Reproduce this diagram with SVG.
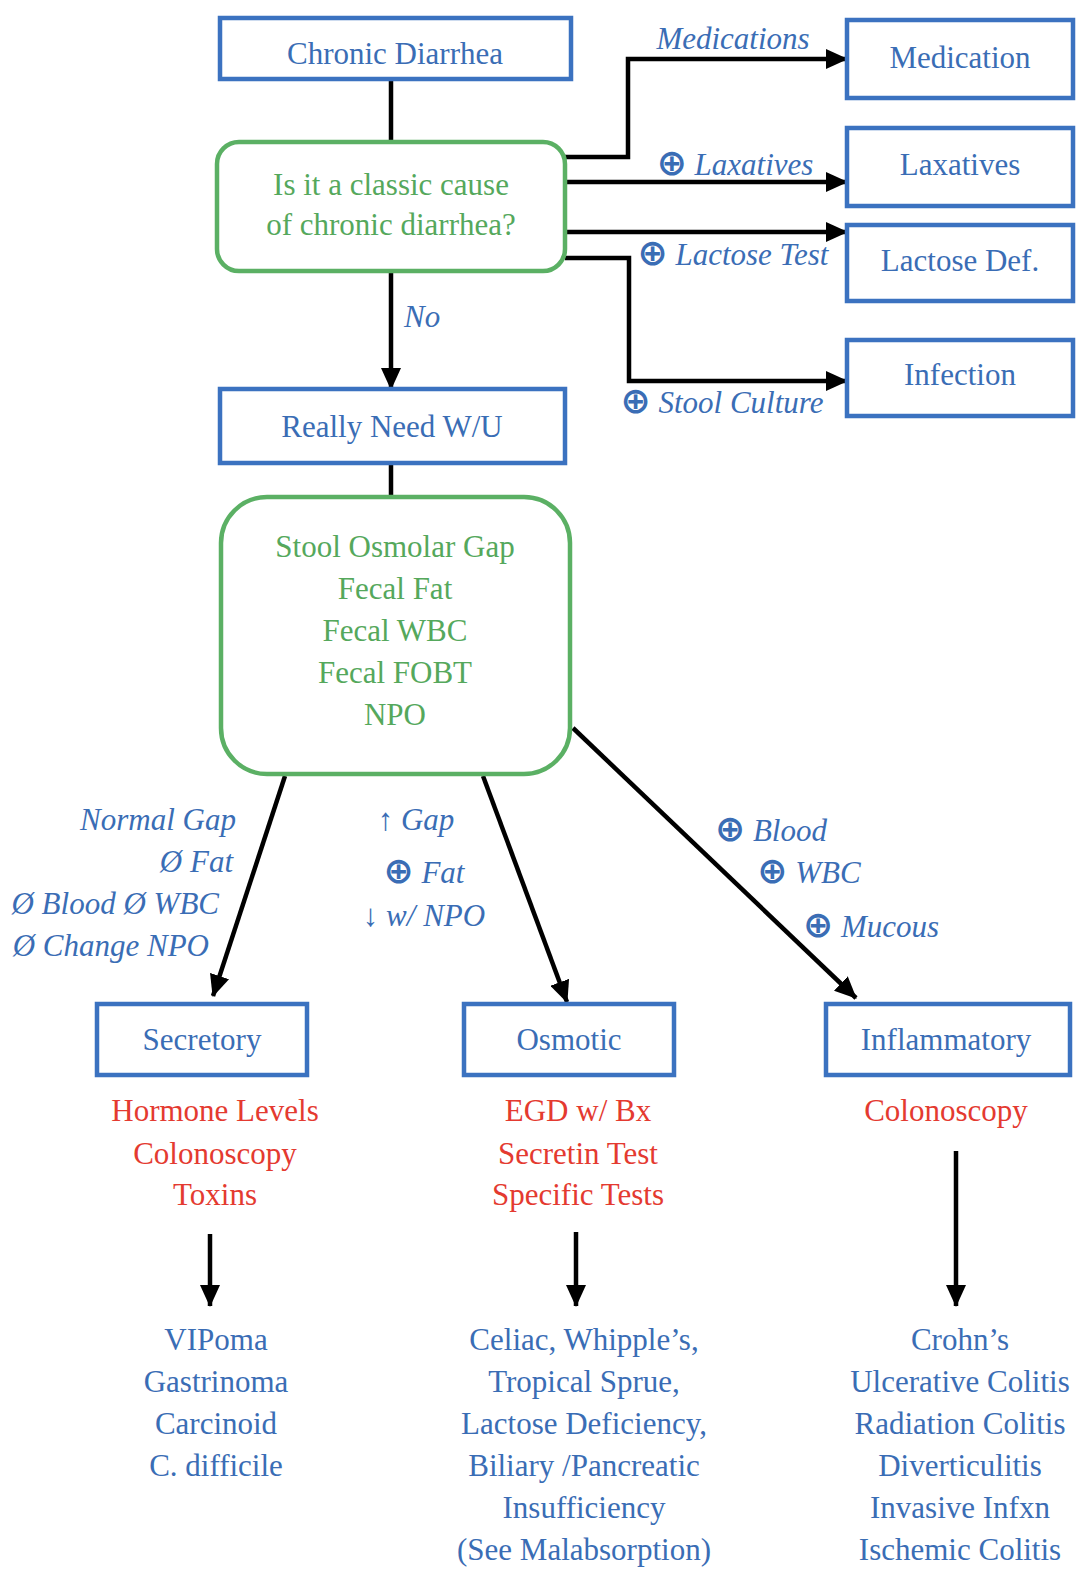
<svg xmlns="http://www.w3.org/2000/svg" width="1086" height="1590" viewBox="0 0 1086 1590">
<style>
text{font-family:"Liberation Serif","Times New Roman",serif;font-size:31px;text-anchor:middle}
.b{fill:#3a6db5}
.g{fill:#55a85c}
.r{fill:#e43a30}
.i{font-style:italic;fill:#3a6db5}
.box{fill:#fff;stroke:#3b72c0;stroke-width:4.5}
.gbox{fill:#fff;stroke:#5bb064;stroke-width:4.5}
.ln{fill:none;stroke:#000;stroke-width:4.5}
.ar{fill:none;stroke:#000;stroke-width:4.5;marker-end:url(#ah)}
.pl{font-family:"DejaVu Sans",sans-serif;font-style:normal;font-weight:bold;font-size:36px}
</style>
<defs>
<marker id="ah" markerUnits="userSpaceOnUse" markerWidth="22" markerHeight="20" refX="21" refY="10" orient="auto" viewBox="0 0 22 20">
<path d="M0,0 L22,10 L0,20 z" fill="#000"/>
</marker>
</defs>
<rect width="1086" height="1590" fill="#fff"/>
<g id="connectors">
<line class="ln" x1="391" y1="79" x2="391" y2="142"/>
<polyline class="ar" points="565,157 628,157 628,59 847,59"/>
<line class="ar" x1="565" y1="182" x2="847" y2="182"/>
<line class="ar" x1="565" y1="232" x2="847" y2="232"/>
<polyline class="ar" points="565,258 629,258 629,381 847,381"/>
<line class="ar" x1="391" y1="271" x2="391" y2="389"/>
<line class="ln" x1="391" y1="463" x2="391" y2="497"/>
<line class="ar" x1="285" y1="776" x2="213" y2="996"/>
<line class="ar" x1="483" y1="776" x2="567" y2="1002"/>
<line class="ar" x1="573" y1="728" x2="856" y2="998"/>
<line class="ar" x1="210" y1="1234" x2="210" y2="1306"/>
<line class="ar" x1="576" y1="1232" x2="576" y2="1306"/>
<line class="ar" x1="956" y1="1151" x2="956" y2="1306"/>
</g>
<g id="edge-labels">
<text class="i" x="733" y="49">Medications</text>
<text class="i" x="735" y="175"><tspan class="pl">⊕</tspan> Laxatives</text>
<text class="i" x="733" y="265"><tspan class="pl">⊕</tspan> Lactose Test</text>
<text class="i" x="722" y="413"><tspan class="pl">⊕</tspan> Stool Culture</text>
<text class="i" x="404" y="327" style="text-anchor:start">No</text>
<text class="i" x="236" y="830" style="text-anchor:end">Normal Gap</text>
<text class="i" x="233" y="872" style="text-anchor:end">Ø Fat</text>
<text class="i" x="219" y="914" style="text-anchor:end">Ø Blood Ø WBC</text>
<text class="i" x="209" y="956" style="text-anchor:end">Ø Change NPO</text>
<text class="i" x="416" y="830">↑ Gap</text>
<text class="i" x="424" y="883"><tspan class="pl">⊕</tspan> Fat</text>
<text class="i" x="424" y="926">↓ w/ NPO</text>
<text class="i" x="771" y="841"><tspan class="pl">⊕</tspan> Blood</text>
<text class="i" x="809" y="883"><tspan class="pl">⊕</tspan> WBC</text>
<text class="i" x="871" y="937"><tspan class="pl">⊕</tspan> Mucous</text>
</g>
<g id="chronic-diarrhea">
<rect class="box" x="220" y="18" width="351" height="61"/>
<text class="b" x="395" y="64">Chronic Diarrhea</text>
</g>
<g id="classic-cause">
<rect class="gbox" x="217" y="142" width="348" height="129" rx="22"/>
<text class="g" x="391" y="195">Is it a classic cause</text>
<text class="g" x="391" y="235">of chronic diarrhea?</text>
</g>
<g id="medication">
<rect class="box" x="847" y="20" width="226" height="78"/>
<text class="b" x="960" y="68">Medication</text>
</g>
<g id="laxatives">
<rect class="box" x="847" y="128" width="226" height="78"/>
<text class="b" x="960" y="175">Laxatives</text>
</g>
<g id="lactose-def">
<rect class="box" x="847" y="225" width="226" height="76"/>
<text class="b" x="960" y="271">Lactose Def.</text>
</g>
<g id="infection">
<rect class="box" x="847" y="340" width="226" height="76"/>
<text class="b" x="960" y="385">Infection</text>
</g>
<g id="really-need">
<rect class="box" x="220" y="389" width="345" height="74"/>
<text class="b" x="392" y="437">Really Need W/U</text>
</g>
<g id="stool-tests">
<rect class="gbox" x="221" y="497" width="349" height="277" rx="46"/>
<text class="g" x="395" y="557">Stool Osmolar Gap</text>
<text class="g" x="395" y="599">Fecal Fat</text>
<text class="g" x="395" y="641">Fecal WBC</text>
<text class="g" x="395" y="683">Fecal FOBT</text>
<text class="g" x="395" y="725">NPO</text>
</g>
<g id="secretory">
<rect class="box" x="97" y="1004" width="210" height="71"/>
<text class="b" x="202" y="1050">Secretory</text>
<text class="r" x="215" y="1121">Hormone Levels</text>
<text class="r" x="215" y="1164">Colonoscopy</text>
<text class="r" x="215" y="1205">Toxins</text>
</g>
<g id="osmotic">
<rect class="box" x="464" y="1004" width="210" height="71"/>
<text class="b" x="569" y="1050">Osmotic</text>
<text class="r" x="578" y="1121">EGD w/ Bx</text>
<text class="r" x="578" y="1164">Secretin Test</text>
<text class="r" x="578" y="1205">Specific Tests</text>
</g>
<g id="inflammatory">
<rect class="box" x="826" y="1004" width="244" height="71"/>
<text class="b" x="946" y="1050">Inflammatory</text>
<text class="r" x="946" y="1121">Colonoscopy</text>
</g>
<g id="secretory-causes">
<text class="b" x="216" y="1350">VIPoma</text>
<text class="b" x="216" y="1392">Gastrinoma</text>
<text class="b" x="216" y="1434">Carcinoid</text>
<text class="b" x="216" y="1476">C. difficile</text>
</g>
<g id="osmotic-causes">
<text class="b" x="584" y="1350">Celiac, Whipple’s,</text>
<text class="b" x="584" y="1392">Tropical Sprue,</text>
<text class="b" x="584" y="1434">Lactose Deficiency,</text>
<text class="b" x="584" y="1476">Biliary /Pancreatic</text>
<text class="b" x="584" y="1518">Insufficiency</text>
<text class="b" x="584" y="1560">(See Malabsorption)</text>
</g>
<g id="inflammatory-causes">
<text class="b" x="960" y="1350">Crohn’s</text>
<text class="b" x="960" y="1392">Ulcerative Colitis</text>
<text class="b" x="960" y="1434">Radiation Colitis</text>
<text class="b" x="960" y="1476">Diverticulitis</text>
<text class="b" x="960" y="1518">Invasive Infxn</text>
<text class="b" x="960" y="1560">Ischemic Colitis</text>
</g>
</svg>
